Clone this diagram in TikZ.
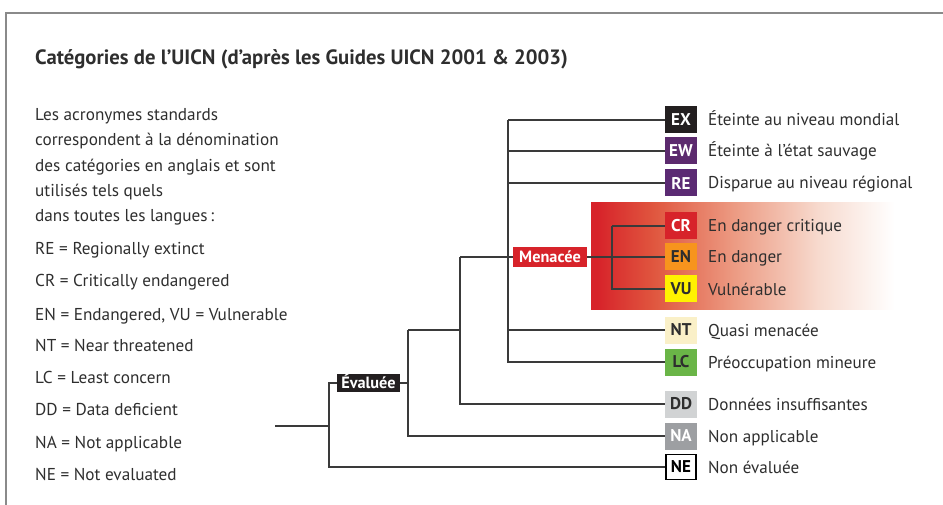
\documentclass[tikz,border=0pt]{standalone}
\usepackage{fontspec}
\setmainfont{PT Sans}
\definecolor{txt}{HTML}{2E2E2E}
\definecolor{linec}{HTML}{3a3a3a}
\definecolor{framec}{HTML}{8a8a8a}
\definecolor{cEX}{HTML}{231F20}
\definecolor{cEW}{HTML}{5C2A6E}
\definecolor{cRE}{HTML}{5B2A73}
\definecolor{cCR}{HTML}{D7232A}
\definecolor{cEN}{HTML}{F7941D}
\definecolor{cVU}{HTML}{FFF200}
\definecolor{cNT}{HTML}{FAF0C8}
\definecolor{cLC}{HTML}{6AB547}
\definecolor{cDD}{HTML}{D1D3D4}
\definecolor{cNA}{HTML}{9D9FA2}
\definecolor{g1}{HTML}{E0573F}
\definecolor{g2}{HTML}{EC9A82}
\definecolor{g3}{HTML}{F7DACE}
\pgfdeclarehorizontalshading{redfade}{100bp}{color(0bp)=(cCR); color(26bp)=(cCR); color(35bp)=(g1); color(47.5bp)=(g2); color(61bp)=(g3); color(73bp)=(white); color(100bp)=(white)}
\tikzset{
  catbox/.style={minimum width=32pt, minimum height=27pt, inner sep=0pt, font=\bfseries\fontsize{17}{19}\selectfont},
  catlabel/.style={anchor=base west, inner sep=0pt, text=txt, font=\fontsize{17.1}{19}\selectfont},
  lefttext/.style={anchor=base west, inner sep=0pt, text=txt, font=\fontsize{17.2}{19}\selectfont},
  tree/.style={draw=linec, line width=1.2pt},
  tag/.style={inner sep=0pt, text=white, font=\bfseries\fontsize{16.3}{18}\selectfont}
}
\begin{document}
\begin{tikzpicture}[x=1pt,y=-1pt]
\useasboundingbox (0,0) rectangle (943,505);
% frame
\draw[framec, line width=1.8pt] (6,505) -- (6,13) -- (943,13);
% title
\node[anchor=base west, inner sep=0pt, text=txt, font=\bfseries\fontsize{20.7}{22}\selectfont] (title) at (35,65) {Catégories de l’UICN (d’après les Guides UICN 2001 \& 2003)};
% left text
\node[lefttext] (l1) at (35,121) {Les acronymes standards};
\node[lefttext] (l2) at (35,146) {correspondent à la dénomination};
\node[lefttext] (l3) at (35,172) {des catégories en anglais et sont};
\node[lefttext] (l4) at (35,197) {utilisés tels quels};
\node[lefttext] (l5) at (35,222) {dans toutes les langues\,:};
\node[lefttext] (l6) at (35,255) {RE = Regionally extinct};
\node[lefttext] (l7) at (35,287) {CR = Critically endangered};
\node[lefttext] (l8) at (35,320) {EN = Endangered, VU = Vulnerable};
\node[lefttext] (l9) at (35,351) {NT = Near threatened};
\node[lefttext] (l10) at (35,383) {LC = Least concern};
\node[lefttext] (l11) at (35,415) {DD = Data deficient};
\node[lefttext] (l12) at (35,448) {NA = Not applicable};
\node[lefttext] (l13) at (35,480) {NE = Not evaluated};
% gradient band
\shade[shading=redfade] (591,203) rectangle (907,310);
% category boxes
\node[catbox, fill=cEX, text=white] (ex) at (681,120) {EX};
\node[catbox, fill=cEW, text=white] (ew) at (681,151) {EW};
\node[catbox, fill=cRE, text=white] (re) at (681,183) {RE};
\node[catbox, fill=cCR, text=white] (cr) at (681,226) {CR};
\node[catbox, fill=cEN, text=txt] (en) at (681,257) {EN};
\node[catbox, fill=cVU, text=txt] (vu) at (681,289) {VU};
\node[catbox, fill=cNT, text=txt] (nt) at (681,330) {NT};
\node[catbox, fill=cLC, text=txt] (lc) at (681,362) {LC};
\node[catbox, fill=cDD, text=txt] (dd) at (681,404) {DD};
\node[catbox, fill=cNA, text=white] (na) at (681,436) {NA};
\node[catbox, fill=white, draw=black, line width=1.6pt, minimum width=30pt, minimum height=25pt, text=black] (ne) at (681,467) {NE};
% labels
\node[catlabel] (tex) at (708,126) {Éteinte au niveau mondial};
\node[catlabel] (tew) at (708,157) {Éteinte à l’état sauvage};
\node[catlabel] (tre) at (708,189) {Disparue au niveau régional};
\node[catlabel] (tcr) at (708,232) {En danger critique};
\node[catlabel] (ten) at (708,263) {En danger};
\node[catlabel] (tvu) at (708,295) {Vulnérable};
\node[catlabel] (tnt) at (708,336) {Quasi menacée};
\node[catlabel] (tlc) at (708,368) {Préoccupation mineure};
\node[catlabel] (tdd) at (708,410) {Données insuffisantes};
\node[catlabel] (tna) at (708,442) {Non applicable};
\node[catlabel] (tne) at (708,473) {Non évaluée};
% tree coordinates
\coordinate (r0) at (275,426);
\coordinate (j0) at (329,426);
\coordinate (v1) at (329,383);
\coordinate (v2) at (408,383);
\coordinate (v2t) at (408,330);
\coordinate (v3) at (460,330);
\coordinate (v3t) at (460,257);
\coordinate (v4) at (508,120);
\coordinate (v5) at (612,226);
% tags
\node[tag, fill=cEX, minimum width=63pt, minimum height=18pt, text height=11pt, text depth=0pt] (evl) at (368.5,383) {Évaluée};
\node[tag, fill=cCR, minimum width=74pt, minimum height=20pt, text height=11pt, text depth=0pt] (men) at (550,257) {Menacée};
% connectors
\draw[tree] (r0) -- (j0);
\draw[tree] (evl.west) -- (v1) |- (ne.west);
\draw[tree] (evl.east) -- (v2);
\draw[tree] (v2t) |- (na.west);
\draw[tree] (v2t) -- (v3);
\draw[tree] (v3t) |- (dd.west);
\draw[tree] (v3t) -- (men.west);
\draw[tree] (v4) -- (ex.west);
\draw[tree] (v4) |- (lc.west);
\draw[tree] (ew.west -| v4) -- (ew.west);
\draw[tree] (re.west -| v4) -- (re.west);
\draw[tree] (nt.west -| v4) -- (nt.west);
\draw[tree] (men.east) -- (en.west);
\draw[tree] (v5) -- (cr.west);
\draw[tree] (v5) |- (vu.west);
\end{tikzpicture}
\end{document}
